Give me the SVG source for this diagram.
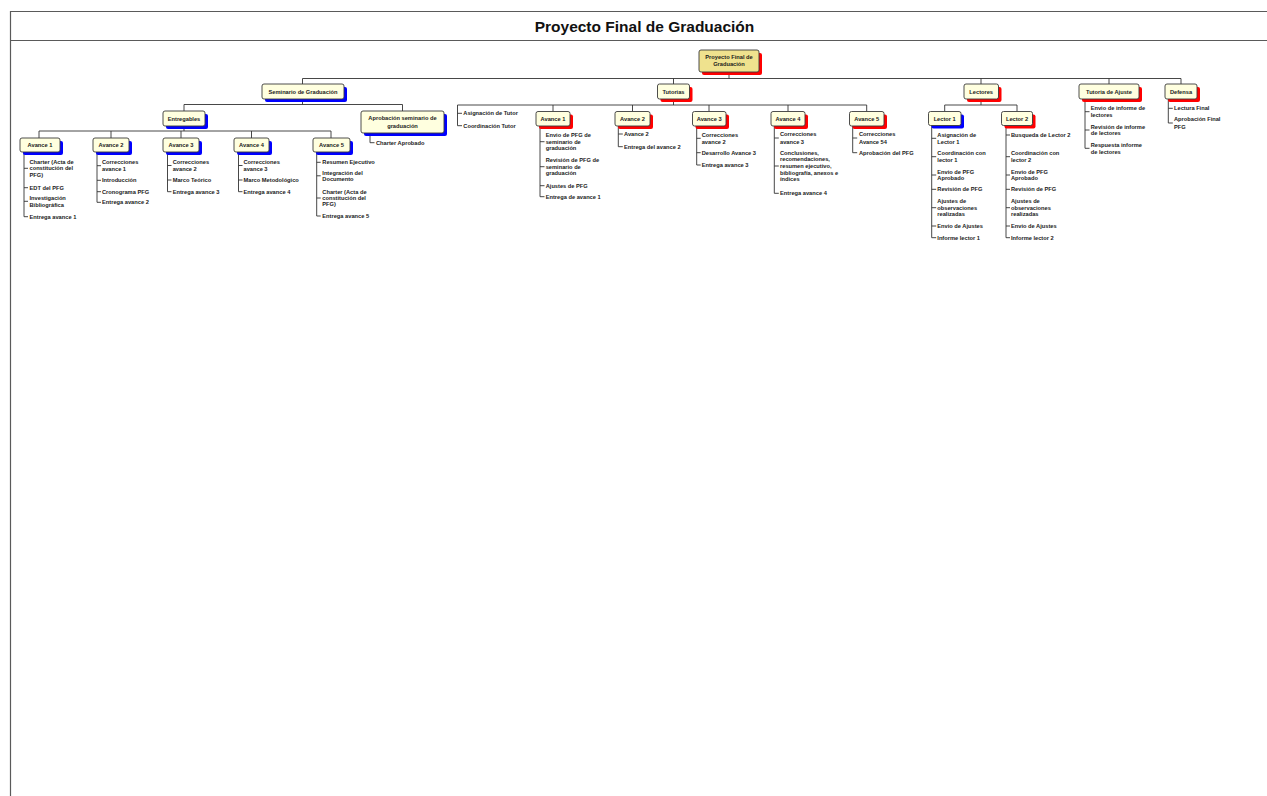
<svg xmlns="http://www.w3.org/2000/svg" width="1267" height="796" viewBox="0 0 1267 796">
  <style>
    .frame { fill: none; stroke: #5a5a5a; stroke-width: 1.2; }
    .title { font-family: "Liberation Sans", Arial, sans-serif; font-size: 15.5px; font-weight: bold; fill: #111; text-anchor: middle; }
    .box { fill: #FFFFDF; stroke: #3a3a3a; stroke-width: 0.9; }
    .root { fill: #EFE28E; stroke: #3a3a3a; stroke-width: 0.9; }
    .sr { fill: #FF0000; }
    .sb { fill: #0000FF; }
    .bt { font-family: "Liberation Sans", Arial, sans-serif; font-size: 5.7px; font-weight: bold; fill: #1a1a1a; text-anchor: middle; }
    .lf { font-family: "Liberation Sans", Arial, sans-serif; font-size: 5.7px; font-weight: bold; fill: #1a1a1a; }
    .ln { fill: none; stroke: #333; stroke-width: 0.9; }
  </style>

  <!-- page frame and title band -->
  <path class="frame" d="M10.5 796 V11.5 H1267"/>
  <line class="frame" x1="10" y1="40.5" x2="1267" y2="40.5"/>
  <text class="title" x="644.5" y="31.5">Proyecto Final de Graduación</text>

  <!-- connectors -->
  <g id="connectors" class="ln">
    <path d="M729 72 V78.5 M302.5 78.5 H1181 M302.5 78.5 V84 M673.5 78.5 V84 M981 78.5 V84 M1109 78.5 V84 M1181 78.5 V84"/>
    <!-- Seminario de Graduación -->
    <path d="M302.5 99 V104.5 M184 104.5 H402.5 M184 104.5 V111 M402.5 104.5 V111"/>
    <!-- Entregables -->
    <path d="M184 126 V131 M39 131 H331 M39 131 V138 M111 131 V138 M181 131 V138 M251.5 131 V138 M331 131 V138"/>
    <!-- Tutorias -->
    <path d="M673.5 99 V105 M457.5 105 H866.7 M553 105 V111.5 M632.5 105 V111.5 M709 105 V111.5 M788 105 V111.5 M866.7 105 V111.5"/>
    <!-- Lectores -->
    <path d="M981 99 V105 M944.7 105 H1017 M944.7 105 V111.5 M1017 105 V111.5"/>

    <!-- leaf lists -->
    <path d="M24 152 V216.7 M24 168.3 h4 M24 187.7 h4 M24 201.3 h4 M24 216.7 h4"/>
    <path d="M97 152 V202.3 M97 165.7 h4 M97 180.3 h4 M97 191.7 h4 M97 202.3 h4"/>
    <path d="M167.5 152 V191.7 M167.5 165.5 h4 M167.5 180 h4 M167.5 191.7 h4"/>
    <path d="M238.5 152 V191.7 M238.5 165.5 h4 M238.5 180 h4 M238.5 191.7 h4"/>
    <path d="M316.7 152 V216 M316.7 162.3 h4 M316.7 175.8 h4 M316.7 198 h4 M316.7 216 h4"/>
    <path d="M370 133 V142.7 h4.5"/>
    <path d="M457.5 105 V125.7 M457.5 113.3 h4.5 M457.5 125.7 h4.5"/>
    <path d="M540 126 V196.7 M540 141.7 h4.5 M540 166.7 h4.5 M540 185.7 h4.5 M540 196.7 h4.5"/>
    <path d="M618.3 126 V146.7 M618.3 134 h4.5 M618.3 146.7 h4.5"/>
    <path d="M696.7 126 V165 M696.7 138.3 h4 M696.7 152.7 h4 M696.7 165 h4"/>
    <path d="M774.3 126 V193.3 M774.3 138 h4.5 M774.3 166 h4.5 M774.3 193.3 h4.5"/>
    <path d="M852.7 126 V152.7 M852.7 138 h4.5 M852.7 152.7 h4.5"/>
    <path d="M931.7 125.5 V237.7 M931.7 138.3 h4.5 M931.7 156.7 h4.5 M931.7 175 h4.5 M931.7 189.3 h4.5 M931.7 207.7 h4.5 M931.7 226 h4.5 M931.7 237.7 h4.5"/>
    <path d="M1006 125.5 V237.7 M1006 135 h4 M1006 156.7 h4 M1006 175 h4 M1006 189.3 h4 M1006 207.7 h4 M1006 226 h4 M1006 237.7 h4"/>
    <path d="M1085 99 V148.3 M1085 111.7 h4.5 M1085 130 h4.5 M1085 148.3 h4.5"/>
    <path d="M1168.3 99 V123 M1168.3 108.3 h4.5 M1168.3 123 h4.5"/>
  </g>

  <!-- root -->
  <g id="n-root">
    <rect class="sr" x="702" y="53" width="60" height="22" rx="2"/>
    <rect class="root" x="699" y="50" width="60" height="22" rx="2"/>
    <text class="bt" x="729" y="59.3">Proyecto Final de</text>
    <text class="bt" x="729" y="66.3">Graduación</text>
  </g>

  <!-- level 1 -->
  <g id="n-seminario">
    <rect class="sb" x="265" y="87" width="82" height="15" rx="2"/>
    <rect class="box" x="262" y="84" width="82" height="15" rx="2"/>
    <text class="bt" x="303" y="93.5">Seminario de Graduación</text>
  </g>
  <g id="n-tutorias">
    <rect class="sr" x="660.5" y="87" width="32" height="15" rx="2"/>
    <rect class="box" x="657.5" y="84" width="32" height="15" rx="2"/>
    <text class="bt" x="673.5" y="93.5">Tutorias</text>
  </g>
  <g id="n-lectores">
    <rect class="sr" x="967" y="87" width="34.5" height="15" rx="2"/>
    <rect class="box" x="964" y="84" width="34.5" height="15" rx="2"/>
    <text class="bt" x="981.2" y="93.5">Lectores</text>
  </g>
  <g id="n-tutoria-ajuste">
    <rect class="sr" x="1082" y="87" width="60" height="15" rx="2"/>
    <rect class="box" x="1079" y="84" width="60" height="15" rx="2"/>
    <text class="bt" x="1109" y="93.5">Tutoria de Ajuste</text>
    <text class="lf" x="1090.7" y="110.3">Envio de informe de</text>
    <text class="lf" x="1090.7" y="117">lectores</text>
    <text class="lf" x="1090.7" y="128.7">Revisión de informe</text>
    <text class="lf" x="1090.7" y="135.3">de lectores</text>
    <text class="lf" x="1090.7" y="147">Respuesta informe</text>
    <text class="lf" x="1090.7" y="153.7">de lectores</text>
  </g>
  <g id="n-defensa">
    <rect class="sr" x="1168" y="87" width="32" height="15" rx="2"/>
    <rect class="box" x="1165" y="84" width="32" height="15" rx="2"/>
    <text class="bt" x="1181" y="93.5">Defensa</text>
    <text class="lf" x="1174" y="110.3">Lectura Final</text>
    <text class="lf" x="1174" y="121.3">Aprobación Final</text>
    <text class="lf" x="1174" y="128.7">PFG</text>
  </g>

  <!-- Seminario branch -->
  <g id="n-entregables">
    <rect class="sb" x="166" y="114" width="42" height="15" rx="2"/>
    <rect class="box" x="163" y="111" width="42" height="15" rx="2"/>
    <text class="bt" x="184" y="120.5">Entregables</text>
  </g>
  <g id="n-aprobacion">
    <rect class="sb" x="364" y="114" width="83" height="22" rx="2"/>
    <rect class="box" x="361" y="111" width="83" height="22" rx="2"/>
    <text class="bt" x="402.5" y="120.3">Aprobación seminario de</text>
    <text class="bt" x="402.5" y="127.7">graduación</text>
    <text class="lf" x="376" y="144.7">Charter Aprobado</text>
  </g>

  <g id="n-e-avance1">
    <rect class="sb" x="23" y="141" width="40" height="14" rx="2"/>
    <rect class="box" x="20" y="138" width="40" height="14" rx="2"/>
    <text class="bt" x="40" y="147">Avance 1</text>
    <text class="lf" x="29.5" y="163.7">Charter (Acta de</text>
    <text class="lf" x="29.5" y="170.3">constitución del</text>
    <text class="lf" x="29.5" y="176.7">PFG)</text>
    <text class="lf" x="29.5" y="189.7">EDT del PFG</text>
    <text class="lf" x="29.5" y="200">Investigación</text>
    <text class="lf" x="29.5" y="206.7">Bibliográfica</text>
    <text class="lf" x="29.5" y="218.7">Entrega avance 1</text>
  </g>
  <g id="n-e-avance2">
    <rect class="sb" x="96" y="141" width="36" height="14" rx="2"/>
    <rect class="box" x="93" y="138" width="36" height="14" rx="2"/>
    <text class="bt" x="111" y="147">Avance 2</text>
    <text class="lf" x="102" y="164.3">Correcciones</text>
    <text class="lf" x="102" y="171">avance 1</text>
    <text class="lf" x="102" y="182.3">Introducción</text>
    <text class="lf" x="102" y="193.7">Cronograma PFG</text>
    <text class="lf" x="102" y="204.3">Entrega avance 2</text>
  </g>
  <g id="n-e-avance3">
    <rect class="sb" x="166" y="141" width="36" height="14" rx="2"/>
    <rect class="box" x="163" y="138" width="36" height="14" rx="2"/>
    <text class="bt" x="181" y="147">Avance 3</text>
    <text class="lf" x="172.7" y="164.3">Correcciones</text>
    <text class="lf" x="172.7" y="170.7">avance 2</text>
    <text class="lf" x="172.7" y="182">Marco Teórico</text>
    <text class="lf" x="172.7" y="193.7">Entrega avance 3</text>
  </g>
  <g id="n-e-avance4">
    <rect class="sb" x="237" y="141" width="35" height="14" rx="2"/>
    <rect class="box" x="234" y="138" width="35" height="14" rx="2"/>
    <text class="bt" x="251.5" y="147">Avance 4</text>
    <text class="lf" x="243.5" y="164.3">Correcciones</text>
    <text class="lf" x="243.5" y="170.7">avance 3</text>
    <text class="lf" x="243.5" y="182">Marco Metodológico</text>
    <text class="lf" x="243.5" y="193.7">Entrega avance 4</text>
  </g>
  <g id="n-e-avance5">
    <rect class="sb" x="316" y="141" width="37" height="14" rx="2"/>
    <rect class="box" x="313" y="138" width="37" height="14" rx="2"/>
    <text class="bt" x="331.5" y="147">Avance 5</text>
    <text class="lf" x="322.3" y="164.3">Resumen Ejecutivo</text>
    <text class="lf" x="322.3" y="174.7">Integración del</text>
    <text class="lf" x="322.3" y="181">Documento</text>
    <text class="lf" x="322.3" y="193.7">Charter (Acta de</text>
    <text class="lf" x="322.3" y="200">constitución del</text>
    <text class="lf" x="322.3" y="206.3">PFG)</text>
    <text class="lf" x="322.3" y="218">Entrega avance 5</text>
  </g>

  <!-- Tutorias branch -->
  <g id="n-t-direct">
    <text class="lf" x="463.3" y="115.3">Asignación de Tutor</text>
    <text class="lf" x="463.3" y="127.7">Coordinación Tutor</text>
  </g>
  <g id="n-t-avance1">
    <rect class="sr" x="539" y="114.5" width="34" height="14.5" rx="2"/>
    <rect class="box" x="536" y="111.5" width="34" height="14.5" rx="2"/>
    <text class="bt" x="553" y="120.7">Avance 1</text>
    <text class="lf" x="545.7" y="137">Envio de PFG de</text>
    <text class="lf" x="545.7" y="143.7">seminario de</text>
    <text class="lf" x="545.7" y="150.3">graduación</text>
    <text class="lf" x="545.7" y="162">Revisión de PFG de</text>
    <text class="lf" x="545.7" y="168.7">seminario de</text>
    <text class="lf" x="545.7" y="175.3">graduación</text>
    <text class="lf" x="545.7" y="187.7">Ajustes de PFG</text>
    <text class="lf" x="545.7" y="198.7">Entrega de avance 1</text>
  </g>
  <g id="n-t-avance2">
    <rect class="sr" x="618" y="114.5" width="35" height="14.5" rx="2"/>
    <rect class="box" x="615" y="111.5" width="35" height="14.5" rx="2"/>
    <text class="bt" x="632.5" y="120.7">Avance 2</text>
    <text class="lf" x="624" y="136">Avance 2</text>
    <text class="lf" x="624" y="148.7">Entrega del avance 2</text>
  </g>
  <g id="n-t-avance3">
    <rect class="sr" x="695.5" y="114.5" width="33.5" height="14.5" rx="2"/>
    <rect class="box" x="692.5" y="111.5" width="33.5" height="14.5" rx="2"/>
    <text class="bt" x="709.2" y="120.7">Avance 3</text>
    <text class="lf" x="701.7" y="137">Correcciones</text>
    <text class="lf" x="701.7" y="143.7">avance 2</text>
    <text class="lf" x="701.7" y="154.7">Desarrollo Avance 3</text>
    <text class="lf" x="701.7" y="167">Entrega avance 3</text>
  </g>
  <g id="n-t-avance4">
    <rect class="sr" x="774" y="114.5" width="34" height="14.5" rx="2"/>
    <rect class="box" x="771" y="111.5" width="34" height="14.5" rx="2"/>
    <text class="bt" x="788" y="120.7">Avance 4</text>
    <text class="lf" x="780" y="136.3">Correcciones</text>
    <text class="lf" x="780" y="143.7">avance 3</text>
    <text class="lf" x="780" y="154.7">Conclusiones,</text>
    <text class="lf" x="780" y="161.3">recomendaciones,</text>
    <text class="lf" x="780" y="168.3">resumen ejecutivo,</text>
    <text class="lf" x="780" y="174.7">bibliografía, anexos e</text>
    <text class="lf" x="780" y="181.3">índices</text>
    <text class="lf" x="780" y="195.3">Entrega avance 4</text>
  </g>
  <g id="n-t-avance5">
    <rect class="sr" x="852.5" y="114.5" width="34.5" height="14.5" rx="2"/>
    <rect class="box" x="849.5" y="111.5" width="34.5" height="14.5" rx="2"/>
    <text class="bt" x="866.7" y="120.7">Avance 5</text>
    <text class="lf" x="859" y="136.3">Correcciones</text>
    <text class="lf" x="859" y="143.7">Avance 54</text>
    <text class="lf" x="859" y="154.7">Aprobación del PFG</text>
  </g>

  <!-- Lectores branch -->
  <g id="n-lector1">
    <rect class="sb" x="931.5" y="114.5" width="32.5" height="14" rx="2"/>
    <rect class="box" x="928.5" y="111.5" width="32.5" height="14" rx="2"/>
    <text class="bt" x="944.7" y="120.5">Lector 1</text>
    <text class="lf" x="937.3" y="137">Asignación de</text>
    <text class="lf" x="937.3" y="143.7">Lector 1</text>
    <text class="lf" x="937.3" y="155.3">Coordinación con</text>
    <text class="lf" x="937.3" y="162">lector 1</text>
    <text class="lf" x="937.3" y="173.7">Envio de PFG</text>
    <text class="lf" x="937.3" y="180.3">Aprobado</text>
    <text class="lf" x="937.3" y="191.3">Revisión de PFG</text>
    <text class="lf" x="937.3" y="203">Ajustes de</text>
    <text class="lf" x="937.3" y="209.7">observaciones</text>
    <text class="lf" x="937.3" y="216">realizadas</text>
    <text class="lf" x="937.3" y="228">Envio de Ajustes</text>
    <text class="lf" x="937.3" y="239.7">Informe lector 1</text>
  </g>
  <g id="n-lector2">
    <rect class="sr" x="1004.5" y="114.5" width="31" height="14" rx="2"/>
    <rect class="box" x="1001.5" y="111.5" width="31" height="14" rx="2"/>
    <text class="bt" x="1017" y="120.5">Lector 2</text>
    <text class="lf" x="1011" y="137">Busqueda de Lector 2</text>
    <text class="lf" x="1011" y="155.3">Coordinación con</text>
    <text class="lf" x="1011" y="162">lector 2</text>
    <text class="lf" x="1011" y="173.7">Envio de PFG</text>
    <text class="lf" x="1011" y="180.3">Aprobado</text>
    <text class="lf" x="1011" y="191.3">Revisión de PFG</text>
    <text class="lf" x="1011" y="203">Ajustes de</text>
    <text class="lf" x="1011" y="209.7">observaciones</text>
    <text class="lf" x="1011" y="216">realizadas</text>
    <text class="lf" x="1011" y="228">Envio de Ajustes</text>
    <text class="lf" x="1011" y="239.7">Informe lector 2</text>
  </g>
</svg>
